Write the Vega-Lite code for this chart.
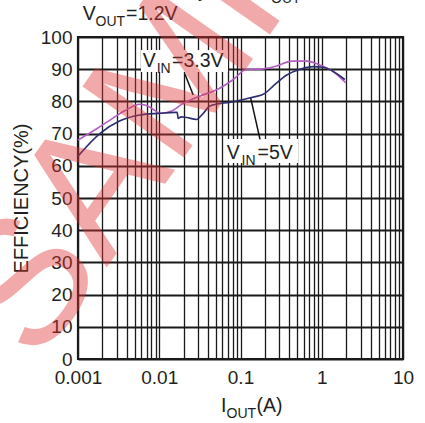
{
  "$schema": "https://vega.github.io/schema/vega-lite/v6.json",
  "width": 325,
  "height": 322,
  "autosize": {"type": "none"},
  "padding": {"left": 78, "top": 37, "right": 22, "bottom": 64},
  "background": "white",
  "config": {
    "font": "Liberation Sans",
    "view": {"stroke": "#1a1a1a", "strokeWidth": 2.2},
    "axis": {
      "domain": false,
      "ticks": false,
      "labelFontSize": 19,
      "labelColor": "#231f20",
      "labelFont": "Liberation Sans",
      "titleFont": "Liberation Sans",
      "titleColor": "#231f20",
      "titleFontWeight": "normal",
      "gridColor": "#1a1a1a",
      "gridOpacity": 1,
      "labelFlush": false,
      "labelOverlap": false,
      "labelBound": false
    }
  },
  "datasets": {
    "curves": [
      {"series": "3.3V", "i": 0.001, "eff": 68.0},
      {"series": "3.3V", "i": 0.0017, "eff": 71.5},
      {"series": "3.3V", "i": 0.00248, "eff": 74.2},
      {"series": "3.3V", "i": 0.0037, "eff": 77.0},
      {"series": "3.3V", "i": 0.0058, "eff": 79.1},
      {"series": "3.3V", "i": 0.0072, "eff": 78.6},
      {"series": "3.3V", "i": 0.0088, "eff": 77.2},
      {"series": "3.3V", "i": 0.0102, "eff": 76.3},
      {"series": "3.3V", "i": 0.0142, "eff": 77.0},
      {"series": "3.3V", "i": 0.0197, "eff": 79.4},
      {"series": "3.3V", "i": 0.0239, "eff": 80.4},
      {"series": "3.3V", "i": 0.0318, "eff": 81.7},
      {"series": "3.3V", "i": 0.0509, "eff": 83.6},
      {"series": "3.3V", "i": 0.0815, "eff": 86.8},
      {"series": "3.3V", "i": 0.117, "eff": 89.9},
      {"series": "3.3V", "i": 0.191, "eff": 90.1},
      {"series": "3.3V", "i": 0.279, "eff": 91.0},
      {"series": "3.3V", "i": 0.427, "eff": 92.5},
      {"series": "3.3V", "i": 0.653, "eff": 92.5},
      {"series": "3.3V", "i": 0.95, "eff": 91.3},
      {"series": "3.3V", "i": 1.39, "eff": 89.2},
      {"series": "3.3V", "i": 1.97, "eff": 85.8},
      {"series": "5V", "i": 0.001, "eff": 63.0},
      {"series": "5V", "i": 0.00187, "eff": 70.1},
      {"series": "5V", "i": 0.00329, "eff": 74.0},
      {"series": "5V", "i": 0.0058, "eff": 75.8},
      {"series": "5V", "i": 0.0102, "eff": 76.3},
      {"series": "5V", "i": 0.0156, "eff": 76.6},
      {"series": "5V", "i": 0.0166, "eff": 76.6},
      {"series": "5V", "i": 0.0171, "eff": 74.7},
      {"series": "5V", "i": 0.0185, "eff": 75.2},
      {"series": "5V", "i": 0.0217, "eff": 75.0},
      {"series": "5V", "i": 0.0287, "eff": 74.4},
      {"series": "5V", "i": 0.0348, "eff": 76.3},
      {"series": "5V", "i": 0.042, "eff": 78.6},
      {"series": "5V", "i": 0.0815, "eff": 79.9},
      {"series": "5V", "i": 0.137, "eff": 81.2},
      {"series": "5V", "i": 0.2, "eff": 82.5},
      {"series": "5V", "i": 0.2535, "eff": 84.8},
      {"series": "5V", "i": 0.371, "eff": 88.2},
      {"series": "5V", "i": 0.54, "eff": 90.0},
      {"series": "5V", "i": 0.787, "eff": 90.8},
      {"series": "5V", "i": 1.045, "eff": 90.6},
      {"series": "5V", "i": 1.92, "eff": 86.8}
    ],
    "boxes": [
      {"i": 0.00596, "i2": 0.0702, "eff": 96.0, "eff2": 89.1},
      {"i": 0.0627, "i2": 0.5105, "eff": 68.3, "eff2": 60.9}
    ],
    "pointers": [
      {"i": 0.0207, "eff": 88.5, "i2": 0.0262, "eff2": 82.0},
      {"i": 0.1336, "eff": 81.0, "i2": 0.1738, "eff2": 68.2}
    ],
    "mainText": [
      {"text": "V", "i": 0.001143, "eff": 105.3},
      {"text": "=1.2V", "i": 0.003898, "eff": 105.3},
      {"text": "V", "i": 0.006255, "eff": 90.8},
      {"text": "=3.3V", "i": 0.01436, "eff": 90.8},
      {"text": "V", "i": 0.06764, "eff": 62.1},
      {"text": "=5V", "i": 0.1619, "eff": 62.1},
      {"text": "I", "i": 0.05754, "eff": -16.4},
      {"text": "(A)", "i": 0.1574, "eff": -16.4},
      {"text": "Efficiency", "i": 0.003746, "eff": 112.4},
      {"text": "vs I", "i": 0.0906, "eff": 112.4}
    ],
    "subText": [
      {"text": "OUT", "i": 0.001642, "eff": 105.3},
      {"text": "IN", "i": 0.009302, "eff": 90.8},
      {"text": "IN", "i": 0.1029, "eff": 62.1},
      {"text": "OUT", "i": 0.06725, "eff": -16.4},
      {"text": "OUT", "i": 0.2373, "eff": 112.4}
    ],
    "watermark": [
      {"text": "SAMPLE", "i": 0.0345, "eff": 100.3}
    ]
  },
  "encoding": {
    "x": {
      "field": "i",
      "type": "quantitative",
      "scale": {"type": "log", "domain": [0.001, 10]},
      "axis": {
        "values": [0.001, 0.002, 0.003, 0.004, 0.005, 0.006, 0.007, 0.008, 0.009,
                   0.01, 0.02, 0.03, 0.04, 0.05, 0.06, 0.07, 0.08, 0.09,
                   0.1, 0.2, 0.3, 0.4, 0.5, 0.6, 0.7, 0.8, 0.9,
                   1, 2, 3, 4, 5, 6, 7, 8, 9, 10],
        "grid": true,
        "gridWidth": 1.3,
        "labelPadding": 9,
        "labelExpr": "(datum.value == 0.001 || datum.value == 0.01 || datum.value == 0.1 || datum.value == 1 || datum.value == 10) ? format(datum.value, '~g') : ''",
        "encode": {"labels": {"update": {"dx": {"signal": "datum.value == 0.001 ? 6 : (datum.value == 10 ? 2 : 0)"}}}},
        "title": null
      }
    },
    "y": {
      "field": "eff",
      "type": "quantitative",
      "scale": {"domain": [0, 100]},
      "axis": {
        "values": [0, 10, 20, 30, 40, 50, 60, 70, 80, 90, 100],
        "grid": true,
        "gridWidth": 1.8,
        "labelPadding": 6,
        "title": "EFFICIENCY(%)",
        "titleFontSize": 20,
        "titlePadding": 9
      }
    }
  },
  "layer": [
    {
      "data": {"name": "boxes"},
      "mark": {"type": "rect", "fill": "white"},
      "encoding": {
        "x2": {"field": "i2"},
        "y2": {"field": "eff2"}
      }
    },
    {
      "data": {"name": "curves"},
      "mark": {"type": "line", "strokeWidth": 1.6, "interpolate": "monotone"},
      "encoding": {
        "color": {
          "field": "series",
          "type": "nominal",
          "scale": {"domain": ["3.3V", "5V"], "range": ["#b35ec2", "#2b2e70"]},
          "legend": null
        }
      }
    },
    {
      "data": {"name": "pointers"},
      "mark": {"type": "rule", "color": "#111111", "strokeWidth": 1.5},
      "encoding": {
        "x2": {"field": "i2"},
        "y2": {"field": "eff2"}
      }
    },
    {
      "data": {"name": "mainText"},
      "mark": {"type": "text", "align": "left", "baseline": "alphabetic", "fontSize": 19.5, "color": "#231f20", "font": "Liberation Sans"},
      "encoding": {"text": {"field": "text"}}
    },
    {
      "data": {"name": "subText"},
      "mark": {"type": "text", "align": "left", "baseline": "alphabetic", "fontSize": 14, "dy": 6, "color": "#231f20", "font": "Liberation Sans"},
      "encoding": {"text": {"field": "text"}}
    },
    {
      "data": {"name": "watermark"},
      "mark": {"type": "text", "align": "center", "baseline": "middle", "fontSize": 180, "angle": -55, "color": "#e03434", "opacity": 0.42, "font": "Liberation Sans"},
      "encoding": {"text": {"field": "text"}}
    }
  ]
}
